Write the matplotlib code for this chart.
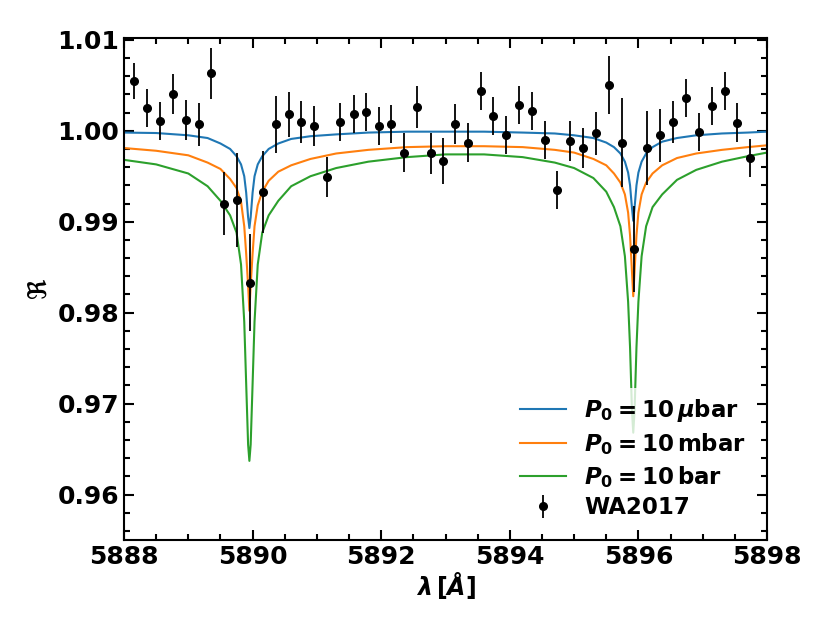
import numpy as np
import matplotlib
matplotlib.use("Agg")
import matplotlib.pyplot as plt
from matplotlib.ticker import MultipleLocator, ScalarFormatter

plt.rcParams['font.weight'] = 'bold'
plt.rcParams['axes.labelweight'] = 'bold'
plt.rcParams['font.size'] = 18
plt.rcParams['mathtext.fontset'] = 'custom'
plt.rcParams['mathtext.rm'] = 'DejaVu Sans:bold'
plt.rcParams['mathtext.it'] = 'DejaVu Sans:italic:bold'
plt.rcParams['mathtext.bf'] = 'DejaVu Sans:bold'

# data points WA2017
wl_obs = [5888.16, 5888.36, 5888.56, 5888.76, 5888.96, 5889.16, 5889.36, 5889.56,
          5889.76, 5889.96, 5890.16, 5890.36, 5890.56, 5890.76, 5890.96, 5891.16,
          5891.36, 5891.57, 5891.76, 5891.96, 5892.16, 5892.36, 5892.56, 5892.77,
          5892.96, 5893.15, 5893.35, 5893.55, 5893.74, 5893.94, 5894.14, 5894.34,
          5894.54, 5894.74, 5894.94, 5895.14, 5895.34, 5895.54, 5895.74, 5895.93,
          5896.14, 5896.33, 5896.54, 5896.74, 5896.94, 5897.14, 5897.34, 5897.54,
          5897.74]
r_obs = [1.0055, 1.0025, 1.0011, 1.0040, 1.0012, 1.0007, 1.0063, 0.9920,
         0.9924, 0.9833, 0.9933, 1.0007, 1.0018, 1.0010, 1.0005, 0.9949,
         1.0010, 1.0018, 1.0021, 1.0005, 1.0007, 0.9976, 1.0026, 0.9975,
         0.9967, 1.0007, 0.9987, 1.0044, 1.0016, 0.9995, 1.0028, 1.0022,
         0.9990, 0.9935, 0.9989, 0.9981, 0.9997, 1.0050, 0.9987, 0.9870,
         0.9981, 0.9995, 1.0010, 1.0036, 0.9999, 1.0027, 1.0044, 1.0009,
         0.9970]
r_err = [0.0020, 0.0021, 0.0021, 0.0022, 0.0022, 0.0024, 0.0028, 0.0035,
         0.0052, 0.0053, 0.0045, 0.0031, 0.0025, 0.0023, 0.0022, 0.0022,
         0.0021, 0.0021, 0.0021, 0.0021, 0.0021, 0.0021, 0.0023, 0.0023,
         0.0025, 0.0022, 0.0021, 0.0021, 0.0021, 0.0021, 0.0021, 0.0021,
         0.0021, 0.0021, 0.0022, 0.0022, 0.0024, 0.0032, 0.0049, 0.0047,
         0.0041, 0.0029, 0.0023, 0.0021, 0.0021, 0.0021, 0.0021, 0.0021,
         0.0021]

# model curves
wl_mod = [5888.0, 5888.5, 5889.0, 5889.3, 5889.5, 5889.65, 5889.75, 5889.82,
          5889.87, 5889.90, 5889.93, 5889.95, 5889.97, 5890.00, 5890.03, 5890.08,
          5890.15, 5890.25, 5890.40, 5890.60, 5890.90, 5891.30, 5891.80, 5892.40,
          5893.00, 5893.60, 5894.20, 5894.70, 5895.00, 5895.30, 5895.50, 5895.62,
          5895.72, 5895.79, 5895.84, 5895.87, 5895.90, 5895.92, 5895.94, 5895.97,
          5896.00, 5896.05, 5896.12, 5896.22, 5896.37, 5896.60, 5896.90, 5897.30,
          5897.70, 5898.00]
r_ubar = [0.9998, 0.99975, 0.9995, 0.9992, 0.9986, 0.9980, 0.9972, 0.9963,
          0.9950, 0.9932, 0.9905, 0.9893, 0.9905, 0.9932, 0.9950, 0.9963,
          0.9972, 0.9980, 0.9986, 0.9991, 0.9994, 0.9996, 0.9998, 0.9999,
          0.9999, 0.9999, 0.9998, 0.9997, 0.9995, 0.9992, 0.9987, 0.9982,
          0.9975, 0.9966, 0.9954, 0.9940, 0.9915, 0.9901, 0.9915, 0.9940,
          0.9954, 0.9966, 0.9975, 0.9982, 0.9988, 0.9992, 0.9995, 0.9997,
          0.9998, 0.9999]
r_mbar = [0.9981, 0.9978, 0.9973, 0.9965, 0.9958, 0.9947, 0.9937, 0.9922,
          0.9895, 0.9865, 0.9830, 0.9802, 0.9830, 0.9865, 0.9895, 0.9918,
          0.9933, 0.9945, 0.9955, 0.9962, 0.9969, 0.9975, 0.9979, 0.9982,
          0.9983, 0.9983, 0.9982, 0.9979, 0.9976, 0.9969, 0.9962, 0.9953,
          0.9943, 0.9930, 0.9910, 0.9885, 0.9845, 0.9818, 0.9845, 0.9885,
          0.9910, 0.9930, 0.9943, 0.9953, 0.9962, 0.9970, 0.9975, 0.9979,
          0.9982, 0.9984]
r_bar = [0.9968, 0.9963, 0.9953, 0.9939, 0.9923, 0.9907, 0.9888, 0.9853,
         0.9790, 0.9722, 0.9655, 0.9637, 0.9655, 0.9722, 0.9790, 0.9853,
         0.9888, 0.9907, 0.9923, 0.9939, 0.9950, 0.9959, 0.9966, 0.9971,
         0.9974, 0.9974, 0.9971, 0.9965, 0.9959, 0.9948, 0.9933, 0.9916,
         0.9895, 0.9862, 0.9812, 0.9762, 0.9692, 0.9668, 0.9692, 0.9762,
         0.9812, 0.9862, 0.9895, 0.9916, 0.9930, 0.9946, 0.9957, 0.9966,
         0.9972, 0.9976]

fig = plt.figure(figsize=(8.3, 6.31), dpi=100)
ax = fig.add_axes([0.1494, 0.1442, 0.7747, 0.7956])

ax.plot(wl_mod, r_ubar, color='tab:blue', lw=1.5, label=r'$P_0 = 10\,\mu\mathrm{bar}$')
ax.plot(wl_mod, r_mbar, color='tab:orange', lw=1.5, label=r'$P_0 = 10\,\mathrm{mbar}$')
ax.plot(wl_mod, r_bar, color='tab:green', lw=1.5, label=r'$P_0 = 10\,\mathrm{bar}$')
ax.errorbar(wl_obs, r_obs, yerr=r_err, fmt='o', color='black', ms=5.5,
            elinewidth=1.3, capsize=0, label='WA2017')

ax.set_xlim(5888, 5898)
ax.set_ylim(0.955, 1.0102)
ax.xaxis.set_major_locator(MultipleLocator(2))
ax.xaxis.set_minor_locator(MultipleLocator(0.5))
ax.yaxis.set_major_locator(MultipleLocator(0.01))
ax.yaxis.set_minor_locator(MultipleLocator(0.002))
fmt = ScalarFormatter(useOffset=False)
ax.xaxis.set_major_formatter(fmt)
ax.tick_params(which='both', direction='in', top=True, right=True, width=1.5)
ax.tick_params(which='major', length=7, labelsize=18)
ax.tick_params(which='minor', length=4.5)
for s in ax.spines.values():
    s.set_linewidth(1.5)

ax.set_xlabel(r'$\lambda\,[\AA]$', fontsize=17, labelpad=1)
ax.set_ylabel(r'$\Re$', fontsize=18, labelpad=4)

leg = ax.legend(loc='lower right', frameon=True, framealpha=0.8,
                edgecolor='none', fontsize=16.5, handlelength=2.0,
                labelspacing=0.3)

fig.savefig('out.png', dpi=100)
